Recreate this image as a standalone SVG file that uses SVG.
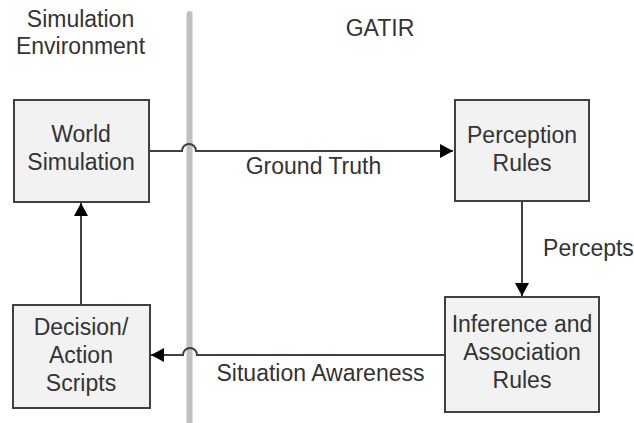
<svg xmlns="http://www.w3.org/2000/svg" width="634" height="423" viewBox="0 0 634 423">
<style>
.box{fill:#f2f2f2;stroke:#404040;stroke-width:2}
.t{font-family:"Liberation Sans",Arial,sans-serif;font-size:23px;fill:#333;text-anchor:middle}
.c{fill:none;stroke:#404040;stroke-width:2}
</style>
<defs>
<marker id="ah" markerUnits="userSpaceOnUse" markerWidth="14" markerHeight="14" refX="13" refY="7" orient="auto">
<path d="M0,0 L13,7 L0,14 z" fill="#000"/>
</marker>
</defs>
<rect width="634" height="423" fill="#fff"/>
<line x1="189.5" y1="14" x2="189.5" y2="423" stroke="#c0c0c0" stroke-width="6" stroke-linecap="round"/>
<text class="t" x="80.5" y="27">Simulation</text>
<text class="t" x="80.5" y="54">Environment</text>
<text class="t" x="380" y="36">GATIR</text>
<g id="world">
<rect class="box" x="14" y="100" width="135" height="102"/>
<text class="t" x="81" y="142">World</text>
<text class="t" x="81" y="170">Simulation</text>
</g>
<g id="perception">
<rect class="box" x="455" y="100" width="134" height="101"/>
<text class="t" x="522" y="143">Perception</text>
<text class="t" x="522" y="171">Rules</text>
</g>
<g id="inference">
<rect class="box" x="445" y="297" width="154" height="115"/>
<text class="t" x="522" y="332">Inference and</text>
<text class="t" x="522" y="360">Association</text>
<text class="t" x="522" y="388">Rules</text>
</g>
<g id="decision">
<rect class="box" x="13" y="305" width="137" height="103"/>
<text class="t" x="81" y="335">Decision/</text>
<text class="t" x="81" y="363">Action</text>
<text class="t" x="81" y="391">Scripts</text>
</g>
<g id="connectors">
<path class="c" d="M149,151 H182 A7,7 0 0 1 196,151 H453" marker-end="url(#ah)"/>
<path class="c" d="M444,355 H197 A7,7 0 0 0 183,355 H151" marker-end="url(#ah)"/>
<path class="c" d="M522,202 V296" marker-end="url(#ah)"/>
<path class="c" d="M81,304 V203" marker-end="url(#ah)"/>
<text class="t" x="313.5" y="174">Ground Truth</text>
<text class="t" x="320.5" y="381">Situation Awareness</text>
<text class="t" x="588.5" y="256">Percepts</text>
</g>
</svg>
